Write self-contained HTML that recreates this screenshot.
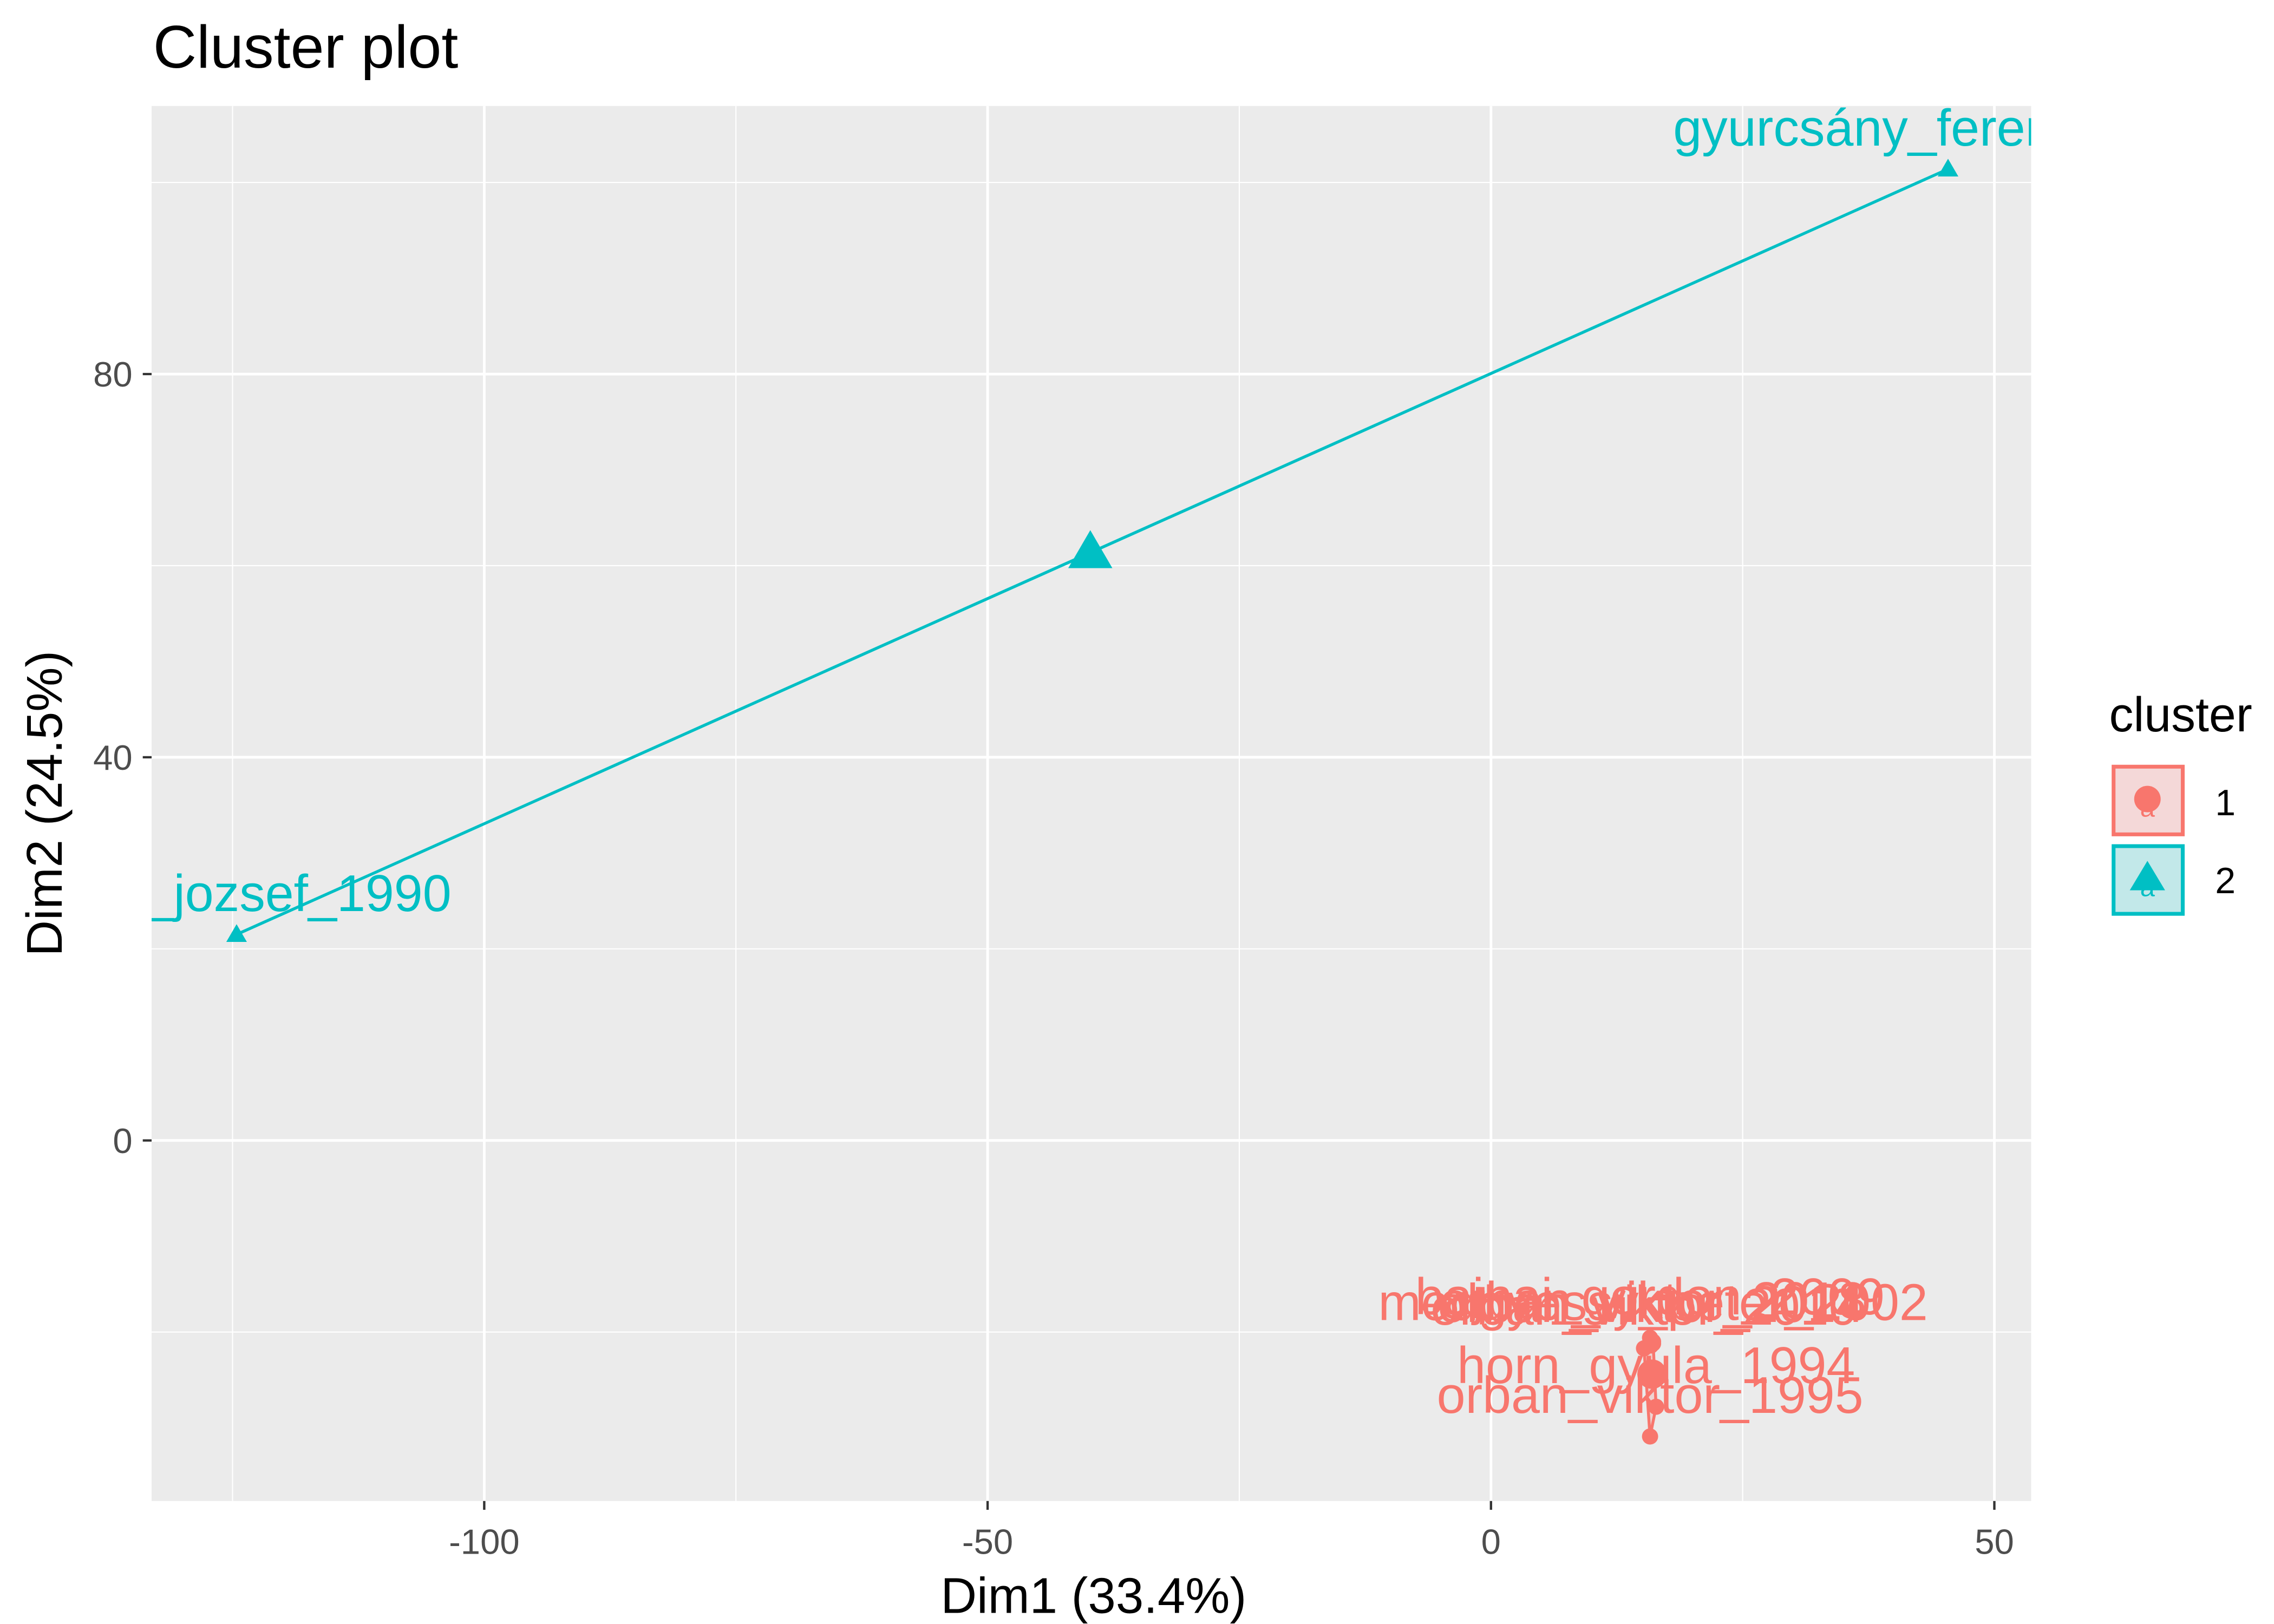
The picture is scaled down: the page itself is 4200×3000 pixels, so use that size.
<!DOCTYPE html>
<html><head><meta charset="utf-8"><style>
html,body{margin:0;padding:0;background:#fff;}
svg{display:block;font-family:"Liberation Sans",Arial,sans-serif;}
</style></head><body>
<svg id="chart" width="4200" height="3000" viewBox="0 0 1545 1103.6" preserveAspectRatio="none" xmlns="http://www.w3.org/2000/svg">
<defs><clipPath id="pc"><rect x="103" y="72" width="1277" height="948"/></clipPath></defs>
<rect x="0" y="0" width="1545" height="1104" fill="#fff"/>
<text x="104" y="46" font-size="41" fill="#000">Cluster plot</text>
<rect x="103" y="72" width="1277" height="948" fill="#EBEBEB"/>
<g id="grid"></g>
<g id="axes"></g>
<g id="marks" clip-path="url(#pc)"></g>
<text x="743" y="1096" font-size="34" text-anchor="middle" fill="#000">Dim1 (33.4%)</text>
<text transform="translate(42,546) rotate(-90)" font-size="34" text-anchor="middle" fill="#000">Dim2 (24.5%)</text>
<g>
<text x="1433" y="497" font-size="33" fill="#000">cluster</text>
<g>
<rect x="1436" y="521" width="47" height="46" fill="#F4D8D8" stroke="#F8766D" stroke-width="2.6"/>
<text x="1459" y="555" font-size="18" text-anchor="middle" fill="#F8766D">a</text>
<circle cx="1459" cy="543" r="9" fill="#F8766D"/>
<text x="1505" y="554" font-size="25" fill="#000">1</text>
</g>
<g>
<rect x="1436" y="575" width="47" height="46" fill="#C2E8E9" stroke="#00BFC4" stroke-width="2.6"/>
<text x="1459" y="609" font-size="18" text-anchor="middle" fill="#00BFC4">a</text>
<polygon points="1459,585 1471,605 1447,605" fill="#00BFC4"/>
<text x="1505" y="607" font-size="25" fill="#000">2</text>
</g>
</g>
</svg>
<script>
const NS="http://www.w3.org/2000/svg";
const xTicks=[-100,-50,0,50];
const xMinor=[-125,-75,-25,25];
const yTicks=[0,40,80];
const yMinor=[-20,20,60,100];
const c1Names=["bajnai_gordon_2009","medgyessy_peter_2002","orban_viktor_2010","orban_viktor_2018","orban_viktor_2014","horn_gyula_1994","orban_viktor_1995"];
const c1X=[15.8,16.1,15.2,16.1,15.9,16.4,15.8];
const c1Y=[-20.6,-21.2,-21.7,-21.0,-21.4,-27.8,-30.9];
const c1Centroid=[16.0,-24.4];
const c2Names=["antall_jozsef_1990","gyurcsány_ferenc_2004"];
const c2X=[-124.6,45.4];
const c2Y=[21.5,101.4];
const c2Centroid=[-39.8,61.4];
const c1Hull=[0,1,3,5,6,2];
const x=v=>1013+v*6.84, y=v=>775-v*6.51;
function mk(tag,attrs,parent){const e=document.createElementNS(NS,tag);for(const k in attrs)e.setAttribute(k,attrs[k]);parent.appendChild(e);return e;}
const grid=document.getElementById('grid'),axes=document.getElementById('axes'),marks=document.getElementById('marks');
xMinor.forEach(v=>{const l=mk('line',{x1:x(v),x2:x(v),y1:72,y2:1020,stroke:'#fff','stroke-width':0.8},grid);

});
yMinor.forEach(v=>{const l=mk('line',{x1:103,x2:1380,y1:y(v),y2:y(v),stroke:'#fff','stroke-width':0.8},grid);

});
xTicks.forEach(v=>{const l=mk('line',{x1:x(v),x2:x(v),y1:72,y2:1020,stroke:'#fff','stroke-width':1.8},grid);


const t=mk('line',{x1:x(v),x2:x(v),y1:1020,y2:1026,stroke:'#333','stroke-width':1.6},axes);


const s=mk('text',{x:x(v),y:1056,'font-size':24,'text-anchor':'middle',fill:'#4D4D4D'},axes);s.textContent=v;

});
yTicks.forEach(v=>{const l=mk('line',{x1:103,x2:1380,y1:y(v),y2:y(v),stroke:'#fff','stroke-width':1.8},grid);


const t=mk('line',{x1:97,x2:103,y1:y(v),y2:y(v),stroke:'#333','stroke-width':1.6},axes);


const s=mk('text',{x:90,y:y(v)+8.5,'font-size':24,'text-anchor':'end',fill:'#4D4D4D'},axes);s.textContent=v;

});
const h1=mk('polygon',{points:c1Hull.map(i=>x(c1X[i])+','+y(c1Y[i])).join(' '),fill:'#F8766D','fill-opacity':0.2,stroke:'#F8766D','stroke-width':2},marks);


const h2=mk('polygon',{points:c2X.map((v,i)=>x(v)+','+y(c2Y[i])).join(' '),fill:'#00BFC4','fill-opacity':0.2,stroke:'#00BFC4','stroke-width':2},marks);


c1X.forEach((v,i)=>{const c=mk('circle',{cx:x(v),cy:y(c1Y[i]),r:5.5,fill:'#F8766D'},marks);

});
const cc=mk('circle',{cx:x(c1Centroid[0]),cy:y(c1Centroid[1]),r:10,fill:'#F8766D'},marks);


function tri(px,py,s){return `${px},${py-s} ${px+s*1.0},${py+s*0.72} ${px-s*1.0},${py+s*0.72}`;}
c2X.forEach((v,i)=>{const p=mk('polygon',{points:tri(x(v),y(c2Y[i]),7),fill:'#00BFC4'},marks);

});
const c2c=mk('polygon',{points:tri(x(c2Centroid[0]),y(c2Centroid[1]),15),fill:'#00BFC4'},marks);


c1Names.forEach((n,i)=>{const t=mk('text',{x:x(c1X[i]),y:y(c1Y[i])-16,'font-size':35,'text-anchor':'middle',fill:'#F8766D'},marks);t.textContent=n;

});
c2Names.forEach((n,i)=>{const t=mk('text',{x:x(c2X[i]),y:y(c2Y[i])-16,'font-size':35,'text-anchor':'middle',fill:'#00BFC4'},marks);t.textContent=n;

});
</script>
</body></html>
